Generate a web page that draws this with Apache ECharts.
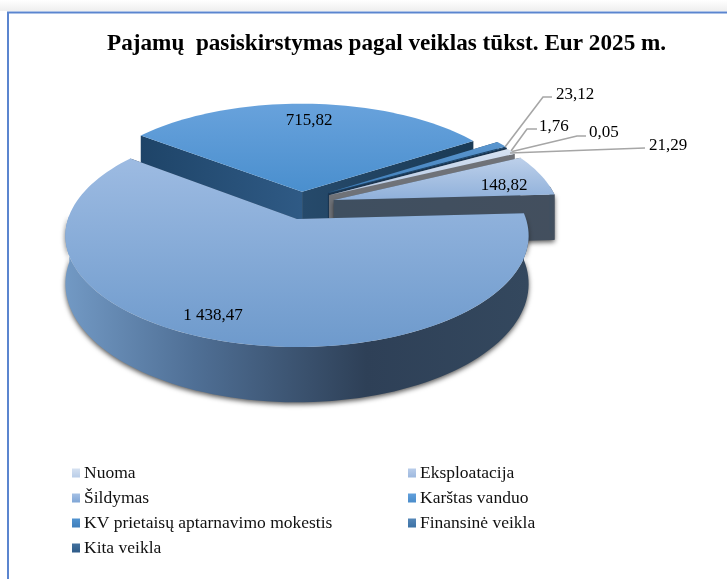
<!DOCTYPE html>
<html>
<head>
<meta charset="utf-8">
<style>html,body{margin:0;padding:0;background:#fff}#chart{width:727px;height:579px}</style>
<script src="https://cdn.jsdelivr.net/npm/echarts@6/dist/echarts.min.js"></script>
</head>
<body>
<div id="chart"></div>
<script>
const categories = ['Nuoma', 'Eksploatacija', 'Šildymas', 'Karštas vanduo', 'KV prietaisų aptarnavimo mokestis', 'Finansinė veikla', 'Kita veikla'];
const values = [21.29, 148.82, 1438.47, 715.82, 23.12, 1.76, 0.05];
const valueLabels = ['21,29', '148,82', '1 438,47', '715,82', '23,12', '1,76', '0,05'];

const font = '"Liberation Serif", "Times New Roman", serif';
const total = values.reduce((a, b) => a + b, 0);
// pie starts here, clockwise, degrees from 3 o'clock
const startDeg = -29.06;
const centerX = 297, centerY = 219, radiusX = 229, radiusY = 108.8, persp = 0.15, depth = 47;

const grad = (x0, y0, x2, y2, c0, c1) => new echarts.graphic.LinearGradient(x0, y0, x2, y2, [
  { offset: 0, color: c0 }, { offset: 1, color: c1 }
]);

// how each slice looks; explode is in pie radii, order is back to front
const sliceStyles = [
  { explode: [0.145, -0.225], top: ['#d6e2f2', '#b4c8e4'], side: ['#6f7278', '#6f7278'], legend: ['#d5e1f1', '#b9cde8'], order: 4 },
  { explode: [0.165, -0.18], top: ['#bdd0ea', '#8fb0da'], side: ['#3f4f60', '#434f5e'], legend: ['#b9cdea', '#9db8de'], order: 5 },
  { explode: [0, 0], top: ['#9dbbe2', '#6e9acc'], side: ['#2f4258', '#2f4258'], legend: ['#a5c0e4', '#7fa6d6'], order: 6 },
  { explode: [0.023, -0.26], top: ['#68a2dc', '#4a8fce'], side: ['#264a6b', '#1a3a55'], sideB: ['#1e4468', '#2f5a85'], legend: ['#62a0dc', '#4a8cca'], order: 0 },
  { explode: [0.14, -0.25], top: ['#5b97d0', '#3f7db8'], side: ['#1d4468', '#1d4468'], legend: ['#5193d0', '#3f7ebb'], order: 1 },
  { explode: [0.14, -0.24], top: ['#4a7fb0', '#3a6c9c'], side: ['#1d3f60', '#1d3f60'], legend: ['#5587b8', '#3d72a5'], order: 2 },
  { explode: [0.14, -0.24], top: ['#3f6a95', '#2f5a85'], side: ['#1a3550', '#1a3550'], legend: ['#43719e', '#2e5b88'], order: 3 }
];

// value labels: plain ones sit at at, leader ones go from `from` through elbow to the text
const labelStyles = [
  { at: [649, 146], elbow: [590, 150], end: 645, from: [510, 153] },
  { at: [504, 186] },
  { at: [213, 316] },
  { at: [309, 121] },
  { at: [556, 95], elbow: [543, 97], end: 552, from: [505, 147] },
  { at: [539, 127], elbow: [527, 129], end: 537, from: [511, 151] },
  { at: [589, 133], elbow: [577, 136], end: 586, from: [510, 152] }
];

function project(X, Y, h) {
  const s = 1 / (1 - persp * Y);
  return [centerX + X * radiusX * s, centerY + Y * radiusY * s + (h ? depth * s : 0)];
}

function rimPoint(deg, ex, h) {
  const a = deg * Math.PI / 180;
  return project(Math.cos(a) + ex[0], Math.sin(a) + ex[1], h);
}

function arcPoints(a0, a1, ex, h) {
  const n = Math.max(2, Math.ceil((a1 - a0) / 2));
  const pts = [];
  for (let i = 0; i <= n; i++) {
    pts.push(rimPoint(a0 + (a1 - a0) * i / n, ex, h));
  }
  return pts;
}

function poly(points, fill, extra) {
  return Object.assign({
    type: 'polygon',
    shape: { points: points },
    style: Object.assign({ fill: fill, stroke: null }, extra || {}),
    silent: true
  });
}

function sliceAngles(index) {
  let before = 0;
  for (let i = 0; i < index; i++) before += values[i];
  return [startDeg + before / total * 360, startDeg + (before + values[index]) / total * 360];
}

function renderSlice(index) {
  const st = sliceStyles[index];
  const [a0, a1] = sliceAngles(index);
  const ex = st.explode;
  const apexTop = project(ex[0], ex[1], false);
  const apexLow = project(ex[0], ex[1], true);
  const children = [];
  const sideFill = grad(0, 0, 1, 0, st.side[0], st.side[1]);
  const sideBFill = st.sideB ? grad(0, 0, 1, 0, st.sideB[0], st.sideB[1]) : sideFill;
  const dropShadow = { shadowBlur: 5, shadowColor: 'rgba(30,30,30,0.75)', shadowOffsetY: 2 };

  // cut faces towards the centre
  const wallA = rimPoint(a0, ex, false), wallAl = rimPoint(a0, ex, true);
  const wallB = rimPoint(a1, ex, false), wallBl = rimPoint(a1, ex, true);
  children.push(poly([apexTop, wallA, wallAl, apexLow], index === 1 ? sideFill : sideBFill));
  children.push(poly([apexTop, wallB, wallBl, apexLow], sideFill, index === 1 ? dropShadow : null));

  // outer wall, only the part facing the viewer
  const visA = Math.max(a0, -8), visB = Math.min(a1, 182);
  if (visB > visA) {
    const upper = arcPoints(visA, visB, ex, false);
    const lower = arcPoints(visA, visB, ex, true);
    const wall = upper.concat(lower.reverse());
    const fill = index === 2
      ? new echarts.graphic.LinearGradient(0, 0, 1, 0, [
          { offset: 0, color: '#7299c4' },
          { offset: 0.28, color: '#4f6f95' },
          { offset: 0.65, color: '#2e4057' },
          { offset: 1, color: '#34485e' }
        ])
      : sideFill;
    children.push(poly(wall, fill, index === 2 ? dropShadow : null));
  }

  // top face
  const topPts = [apexTop].concat(arcPoints(a0, a1, ex, false));
  children.push(poly(topPts, grad(0, 0, 0, 1, st.top[0], st.top[1])));

  // value label and leader
  const lab = labelStyles[index];
  if (lab.from) {
    children.push({
      type: 'polyline',
      shape: { points: [lab.from, lab.elbow, [lab.end, lab.elbow[1] - (index === 0 ? 2 : 0)]] },
      style: { stroke: '#a6a6a6', lineWidth: 1.6, fill: null },
      z2: 20,
      silent: true
    });
  }
  children.push({
    type: 'text',
    x: lab.at[0],
    y: lab.at[1],
    style: {
      text: valueLabels[index],
      font: '17px ' + font,
      fill: '#000',
      align: lab.from ? 'left' : 'center',
      verticalAlign: 'middle'
    },
    z2: 30,
    silent: true
  });
  return { type: 'group', children: children };
}

const series = categories.map((name, i) => ({
  name: name,
  type: 'custom',
  coordinateSystem: 'none',
  z: 2 + sliceStyles[i].order,
  animation: false,
  itemStyle: { color: grad(0, 0, 0, 1, sliceStyles[i].legend[0], sliceStyles[i].legend[1]) },
  data: [values[i]],
  renderItem: () => renderSlice(i)
}));

const legendBase = {
  orient: 'vertical',
  icon: 'rect',
  itemWidth: 8,
  itemHeight: 9,
  itemGap: 7,
  selectedMode: false,
  textStyle: { fontFamily: font, fontSize: 17.5, color: '#111', padding: [0, 0, 0, -1], lineHeight: 17 }
};

const chart = echarts.init(document.getElementById('chart'));
chart.setOption({
  backgroundColor: '#fff',
  animation: false,
  title: {
    text: 'Pajamų  pasiskirstymas pagal veiklas tūkst. Eur 2025 m.',
    left: 102,
    top: 28,
    textStyle: { fontFamily: font, fontSize: 23.2, fontWeight: 'bold', color: '#000' }
  },
  graphic: [{
    type: 'rect',
    z: 0,
    shape: { x: 0, y: 0, width: 727, height: 11 },
    style: { fill: grad(0, 0, 0, 1, '#ffffff', '#efefef') },
    silent: true
  }, {
    type: 'rect',
    z: 1,
    shape: { x: 8, y: 12.5, width: 760, height: 620 },
    style: { fill: null, stroke: '#5b85cf', lineWidth: 2 },
    silent: true
  }],
  legend: [
    Object.assign({}, legendBase, { left: 67, top: 459, data: [categories[0], categories[2], categories[4], categories[6]] }),
    Object.assign({}, legendBase, { left: 403, top: 459, data: [categories[1], categories[3], categories[5]] })
  ],
  series: series
});
</script>
</body>
</html>
